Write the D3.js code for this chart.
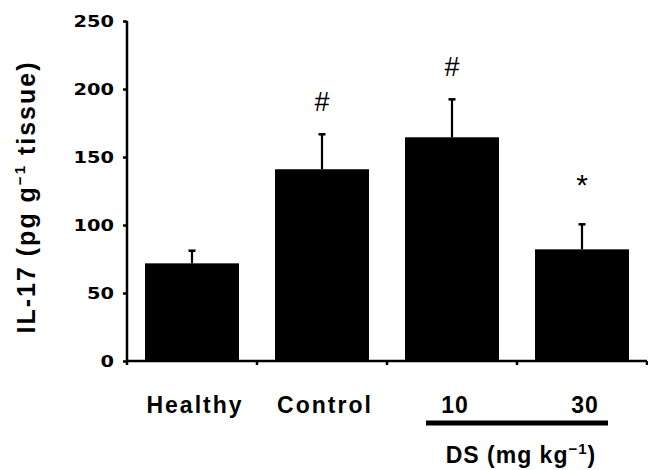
<!DOCTYPE html>
<html>
<head>
<meta charset="utf-8">
<script src="https://cdn.jsdelivr.net/npm/d3@7"></script>
<style>
  body { margin: 0; background: #fff; }
  text { font-family: "Liberation Sans", Arial, sans-serif; }
</style>
</head>
<body>
<div id="chart"></div>
<script>
// values
var groups = ["Healthy", "Control", "10", "30"];
var means = [71.8, 141, 164.5, 82.1];
var errTops = [81.1, 166.7, 192.4, 100.5];
var marks = ["", "#", "#", "*"];
var yTicks = [0, 50, 100, 150, 200, 250];

var svg_width = 648, svg_height = 470;
var margin = {top: 21, right: 1, bottom: 109, left: 127};

var svg = d3.select("#chart")
  .append("svg")
  .attr("width", svg_width)
  .attr("height", svg_height);

var x = d3.scaleBand()
  .domain(groups)
  .range([margin.left, svg_width - margin.right])
  .paddingInner(0.277)
  .paddingOuter(0.1385);

var y = d3.scaleLinear()
  .domain([0, 250])
  .range([svg_height - margin.bottom, margin.top]);

// bars
svg.selectAll(".bar")
  .data(groups)
  .enter()
  .append("rect")
  .attr("class", "bar")
  .attr("x", function(d) { return x(d); })
  .attr("width", x.bandwidth())
  .attr("y", function(d, i) { return y(means[i]); })
  .attr("height", function(d, i) { return y(0) - y(means[i]); })
  .attr("fill", "#000");

// error bars (upper only)
var eb = svg.selectAll(".err")
  .data(groups)
  .enter()
  .append("g")
  .attr("class", "err");

eb.append("line")
  .attr("x1", function(d) { return x(d) + x.bandwidth() / 2; })
  .attr("x2", function(d) { return x(d) + x.bandwidth() / 2; })
  .attr("y1", function(d, i) { return y(means[i]); })
  .attr("y2", function(d, i) { return y(errTops[i]); })
  .attr("stroke", "#000")
  .attr("stroke-width", 2.2);

eb.append("line")
  .attr("x1", function(d) { return x(d) + x.bandwidth() / 2 - 3.5; })
  .attr("x2", function(d) { return x(d) + x.bandwidth() / 2 + 3.5; })
  .attr("y1", function(d, i) { return y(errTops[i]); })
  .attr("y2", function(d, i) { return y(errTops[i]); })
  .attr("stroke", "#000")
  .attr("stroke-width", 2.5);

// significance marks
svg.selectAll(".mark")
  .data(groups)
  .enter()
  .append("text")
  .attr("class", "mark")
  .attr("x", function(d) { return x(d) + x.bandwidth() / 2; })
  .attr("y", function(d, i) { return y(errTops[i]) - (marks[i] == "*" ? 29 : 23); })
  .attr("text-anchor", "middle")
  .style("font-size", function(d, i) { return marks[i] == "*" ? "30px" : "27px"; })
  .text(function(d, i) { return marks[i]; });

// y axis
var yAxis = svg.append("g")
  .attr("transform", "translate(" + margin.left + ",0)")
  .call(d3.axisLeft(y).tickValues(yTicks).tickSize(4).tickSizeOuter(0).tickPadding(9));
yAxis.select(".domain").attr("stroke-width", 2.5).attr("d", "M0," + y(250) + "V" + y(0));
yAxis.selectAll(".tick line").attr("stroke-width", 2.5);
yAxis.selectAll(".tick text")
  .style("font-family", "'DejaVu Sans', sans-serif")
  .style("font-size", "16px")
  .style("font-weight", "bold")
  .attr("dy", "0.36em")
  .attr("textLength", function(d) { return String(d).length * 13.5; })
  .attr("lengthAdjust", "spacingAndGlyphs");

// x axis with ticks at band edges
var edges = groups.map(function(d) { return x(d) - x.step() * x.paddingInner() / 2; });
edges.push(svg_width - margin.right);
var xg = svg.append("g");
xg.append("line")
  .attr("x1", margin.left).attr("x2", svg_width - margin.right)
  .attr("y1", y(0)).attr("y2", y(0))
  .attr("stroke", "#000").attr("stroke-width", 2.5);
xg.selectAll(".xt")
  .data(edges)
  .enter()
  .append("line")
  .attr("x1", function(d) { return d; })
  .attr("x2", function(d) { return d; })
  .attr("y1", y(0)).attr("y2", y(0) + 4)
  .attr("stroke", "#000").attr("stroke-width", 2.5);

// category labels
svg.selectAll(".xl")
  .data(groups)
  .enter()
  .append("text")
  .attr("class", "xl")
  .attr("x", function(d) { return x(d) + x.bandwidth() / 2 + 3; })
  .attr("y", 413)
  .attr("text-anchor", "middle")
  .style("font-size", "23px")
  .style("font-weight", "bold")
  .style("letter-spacing", function(d) { return d.length > 2 ? "2px" : "1px"; })
  .text(function(d) { return d; });

// DS dose bracket
svg.append("line")
  .attr("x1", 426).attr("x2", 608)
  .attr("y1", 423).attr("y2", 423)
  .attr("stroke", "#000").attr("stroke-width", 5);

var ds = svg.append("text")
  .attr("x", 521)
  .attr("y", 463)
  .attr("text-anchor", "middle")
  .style("font-size", "23px")
  .style("font-weight", "bold")
  .style("letter-spacing", "1px");
ds.append("tspan").text("DS (mg kg");
ds.append("tspan").attr("dy", -9).style("font-size", "15px").text("\u22121");
ds.append("tspan").attr("dy", 9).text(")");

// y axis title
var yt = svg.append("text")
  .attr("transform", "translate(35,197) rotate(-90)")
  .attr("text-anchor", "middle")
  .style("font-size", "25px")
  .style("font-weight", "bold")
  .style("letter-spacing", "2px");
yt.append("tspan").text("IL-17 (pg g");
yt.append("tspan").attr("dy", -10).style("font-size", "15px").text("\u22121");
yt.append("tspan").attr("dy", 10).text(" tissue)");
</script>
</body>
</html>
